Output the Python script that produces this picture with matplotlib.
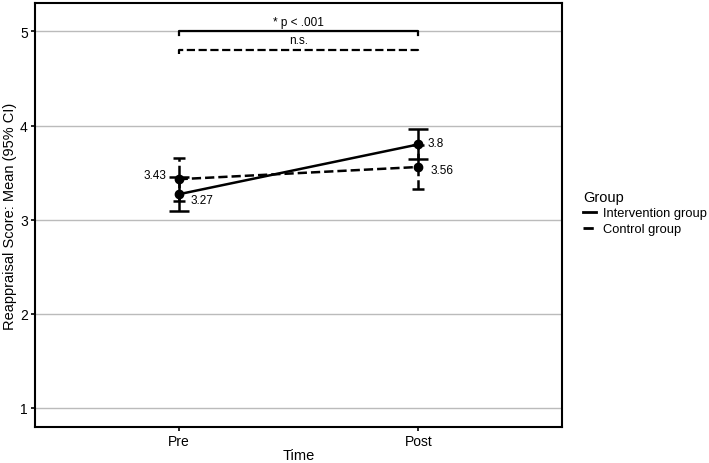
import matplotlib.pyplot as plt
from matplotlib.lines import Line2D

plt.rcParams['font.family'] = ['Liberation Sans', 'DejaVu Sans']

times = ['Pre', 'Post']
groups = ['Intervention group', 'Control group']
interv_mean = [3.27, 3.80]
interv_err = [0.18, 0.16]
control_mean = [3.43, 3.56]
control_err = [0.23, 0.23]
brackets = [(5.0, '* p < .001', '-'), (4.8, 'n.s.', '--')]

fig = plt.figure(figsize=(7.09, 4.64), dpi=100)
ax = fig.add_axes([0.049, 0.078, 0.744, 0.913])

x = [1, 2]
ax.errorbar(x, control_mean, yerr=control_err, color='black', lw=1.8, ls='--',
            marker='o', ms=6, capsize=4.5, capthick=1.8, zorder=3)
ax.errorbar(x, interv_mean, yerr=interv_err, color='black', lw=1.8, ls='-',
            marker='o', ms=6, capsize=7, capthick=1.8, zorder=4)
# dashed style for the control error bars too
for seg in ax.containers[0].lines[2]:
    seg.set_linestyle('--')

ax.text(0.95, control_mean[0] + 0.04, f'{control_mean[0]:g}', ha='right', va='center', fontsize=8.5)
ax.text(1.05, interv_mean[0] - 0.06, f'{interv_mean[0]:g}', ha='left', va='center', fontsize=8.5)
ax.text(2.04, interv_mean[1] + 0.02, f'{interv_mean[1]:g}', ha='left', va='center', fontsize=8.5)
ax.text(2.05, control_mean[1] - 0.03, f'{control_mean[1]:g}', ha='left', va='center', fontsize=8.5)

for yb, label, ls in brackets:
    ax.plot([1, 1, 2, 2], [yb - 0.04, yb, yb, yb - 0.04], color='black', lw=1.6, ls=ls)
    ax.text(1.5, yb + 0.04, label, ha='center', va='bottom', fontsize=8.5)

ax.set_xlim(0.4, 2.6)
ax.set_ylim(0.8, 5.3)
ax.set_xticks(x)
ax.set_xticklabels(times)
ax.set_yticks([1, 2, 3, 4, 5])
ax.yaxis.grid(True, color='#bbbbbb', lw=1)
ax.set_axisbelow(True)
for s in ax.spines.values():
    s.set_linewidth(1.5)
ax.tick_params(labelsize=10, length=3, width=1.2, pad=2)
ax.set_xlabel('Time', fontsize=10.5, labelpad=0)
ax.set_ylabel('Reappraisal Score: Mean (95% CI)', fontsize=10.5, labelpad=2)

handles = [Line2D([], [], color='black', lw=2, ls='-'),
           Line2D([], [], color='black', lw=2, ls='--')]
leg = fig.legend(handles, groups, title='Group', loc='center left',
                 bbox_to_anchor=(0.822, 0.54), frameon=False, fontsize=9.3,
                 title_fontsize=10.5, handlelength=1.0, handletextpad=0.6,
                 labelspacing=0.3, borderpad=0, borderaxespad=0)
leg._legend_box.align = 'left'

fig.savefig('out.png', dpi=100)
